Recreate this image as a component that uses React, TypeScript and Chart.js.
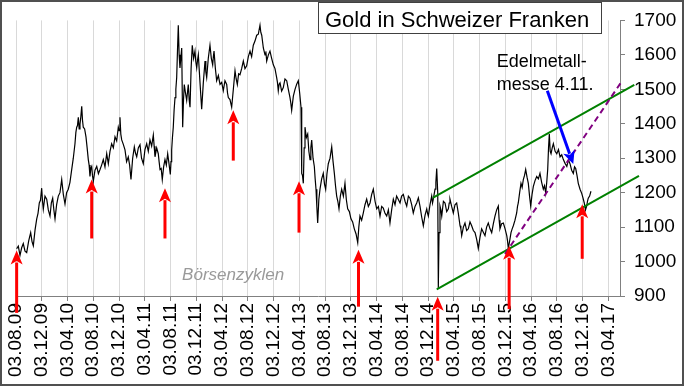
import React, { useEffect, useRef } from 'react';
import { Chart, registerables } from 'chart.js';

Chart.register(...registerables);

// Time axis: months since 03.08.2009
const tickLabels = [
  '03.08.09', '03.12.09', '03.04.10', '03.08.10', '03.12.10', '03.04.11',
  '03.08.11', '03.12.11', '03.04.12', '03.08.12', '03.12.12', '03.04.13',
  '03.08.13', '03.12.13', '03.04.14', '03.08.14', '03.12.14', '03.04.15',
  '03.08.15', '03.12.15', '03.04.16', '03.08.16', '03.12.16', '03.04.17',
];
const tickMonths = [0, 4, 8, 12, 16, 20, 24, 28, 32, 36, 40, 44, 48, 52, 56, 60, 64, 68, 72, 76, 80, 84, 88, 92];
const yTicks = [900, 1000, 1100, 1200, 1300, 1400, 1500, 1600, 1700];

const months = [
  0.1, 0.36, 0.62, 0.88, 1.13, 1.4, 1.66, 1.97, 2.28, 2.49,
  2.69, 2.96, 3.22, 3.42, 3.62, 3.8, 3.99, 4.12, 4.24, 4.5,
  4.77, 5.02, 5.28, 5.49, 5.7, 5.88, 6.06, 6.31, 6.57, 6.83,
  7.1, 7.35, 7.61, 7.86, 8.12, 8.38, 8.65, 8.9, 9.16, 9.3,
  9.43, 9.55, 9.68, 9.81, 9.94, 10.07, 10.21, 10.33, 10.45, 10.66,
  10.87, 11.05, 11.23, 11.36, 11.49, 11.62, 11.76, 11.88, 12.01, 12.27,
  12.54, 12.8, 13.05, 13.3, 13.56, 13.82, 14.09, 14.2, 14.34, 14.6,
  14.86, 15.12, 15.38, 15.64, 15.89, 16.02, 16.15, 16.28, 16.42, 16.67,
  16.93, 17.18, 17.44, 17.65, 17.86, 18.12, 18.38, 18.56, 18.75, 19,
  19.26, 19.5, 19.77, 20.03, 20.3, 20.55, 20.81, 21.07, 21.33, 21.46,
  21.59, 21.85, 22.1, 22.23, 22.37, 22.55, 22.72, 22.93, 23.14, 23.35,
  23.56, 23.76, 23.97, 24.08, 24.18, 24.3, 24.43, 24.56, 24.7, 24.83,
  24.96, 25.08, 25.21, 25.34, 25.47, 25.6, 25.74, 25.89, 26.02, 26.14,
  26.32, 26.51, 26.63, 26.76, 26.9, 27.03, 27.2, 27.38, 27.59, 27.8,
  27.93, 28.07, 28.2, 28.32, 28.58, 28.84, 29.1, 29.36, 29.49, 29.62,
  29.87, 30.13, 30.34, 30.55, 30.66, 30.76, 30.97, 31.17, 31.43, 31.69,
  31.95, 32.2, 32.46, 32.73, 32.85, 32.98, 33.24, 33.5, 33.76, 34.02,
  34.2, 34.38, 34.58, 34.79, 35.05, 35.31, 35.57, 35.83, 36.09, 36.35,
  36.6, 36.86, 37.12, 37.39, 37.64, 37.9, 38.03, 38.17, 38.42, 38.68,
  38.81, 38.94, 39.2, 39.45, 39.71, 39.97, 40.23, 40.49, 40.61, 40.74,
  40.87, 41.01, 41.26, 41.52, 41.78, 42.05, 42.3, 42.56, 42.69, 42.82,
  43.08, 43.34, 43.6, 43.85, 44.06, 44.27, 44.38, 44.5, 44.63, 44.76,
  44.89, 45.1, 45.31, 45.49, 45.67, 45.8, 45.93, 46.14, 46.34, 46.47,
  46.6, 46.73, 46.86, 47.04, 47.22, 47.48, 47.73, 47.92, 48.1, 48.3,
  48.51, 48.78, 49.04, 49.25, 49.45, 49.63, 49.81, 49.99, 50.17, 50.38,
  50.59, 50.85, 51.1, 51.31, 51.52, 51.78, 52.03, 52.29, 52.55, 52.82,
  53.08, 53.25, 53.43, 53.69, 53.95, 54.21, 54.47, 54.73, 54.99, 55.25,
  55.5, 55.77, 56.03, 56.29, 56.54, 56.8, 57.05, 57.32, 57.58, 57.84,
  58.09, 58.35, 58.61, 58.87, 59.12, 59.39, 59.65, 59.9, 60.16, 60.43,
  60.69, 60.95, 61.2, 61.46, 61.71, 61.98, 62.24, 62.5, 62.75, 63.01,
  63.27, 63.54, 63.8, 63.93, 64.05, 64.31, 64.57, 64.7, 64.82, 64.95,
  65.09, 65.22, 65.35, 65.51, 65.6, 65.71, 65.86, 66, 66.13, 66.39,
  66.64, 66.9, 67.16, 67.29, 67.41, 67.67, 67.93, 68.19, 68.45, 68.71,
  68.97, 69.1, 69.23, 69.49, 69.74, 70, 70.26, 70.52, 70.78, 71.04,
  71.3, 71.55, 71.81, 72.07, 72.33, 72.59, 72.85, 73.1, 73.36, 73.63,
  73.89, 74.15, 74.4, 74.66, 74.92, 75.05, 75.18, 75.44, 75.7, 75.97,
  76.23, 76.35, 76.47, 76.68, 76.89, 77.07, 77.25, 77.51, 77.77, 77.9,
  78.02, 78.23, 78.44, 78.62, 78.8, 78.99, 79.17, 79.38, 79.58, 79.77,
  79.95, 80.16, 80.36, 80.62, 80.88, 81.14, 81.39, 81.65, 81.91, 82.1,
  82.28, 82.44, 82.59, 82.72, 82.84, 82.98, 83.11, 83.29, 83.47, 83.74,
  84, 84.26, 84.51, 84.77, 85.02, 85.29, 85.56, 85.81, 86.05, 86.31,
  86.57, 86.76, 86.94, 87.14, 87.34, 87.61, 87.87, 88.07, 88.27, 88.46,
  88.64, 88.77, 88.89, 89.1, 89.31,
];
const prices = [
  1037, 1045, 1018, 1040, 1052, 1030, 1026, 1060, 1084, 1058,
  1046, 1092, 1124, 1140, 1170, 1178, 1213, 1175, 1152, 1190,
  1181, 1150, 1132, 1170, 1184, 1150, 1124, 1165, 1190, 1200,
  1238, 1195, 1167, 1200, 1210, 1230, 1267, 1300, 1342, 1375,
  1390, 1395, 1419, 1385, 1399, 1420, 1451, 1410, 1390, 1385,
  1362, 1330, 1296, 1280, 1247, 1270, 1276, 1250, 1233, 1265,
  1276, 1255, 1267, 1280, 1296, 1275, 1313, 1300, 1284, 1320,
  1342, 1330, 1362, 1350, 1390, 1380, 1419, 1370, 1353, 1340,
  1324, 1290, 1304, 1280, 1238, 1300, 1333, 1315, 1304, 1330,
  1339, 1300, 1284, 1325, 1342, 1320, 1353, 1335, 1367, 1335,
  1304, 1330, 1313, 1290, 1267, 1270, 1238, 1275, 1296, 1280,
  1313, 1285, 1253, 1290, 1324, 1360, 1390, 1440, 1476, 1500,
  1534, 1610, 1686, 1600, 1562, 1590, 1620, 1390, 1470, 1514,
  1490, 1468, 1490, 1514, 1470, 1448, 1560, 1628, 1590, 1611,
  1580, 1562, 1585, 1600, 1520, 1442, 1520, 1582, 1550, 1534,
  1590, 1628, 1590, 1571, 1595, 1611, 1560, 1525, 1540, 1514,
  1520, 1496, 1525, 1514, 1490, 1476, 1470, 1448, 1500, 1554,
  1530, 1514, 1545, 1542, 1560, 1582, 1560, 1568, 1595, 1611,
  1595, 1628, 1640, 1657, 1660, 1686, 1665, 1657, 1620, 1600,
  1610, 1582, 1600, 1611, 1590, 1571, 1560, 1534, 1520, 1496,
  1515, 1519, 1495, 1505, 1530, 1525, 1500, 1476, 1460, 1439,
  1480, 1500, 1515, 1525, 1490, 1448, 1256, 1250, 1227, 1330,
  1390, 1360, 1370, 1320, 1296, 1330, 1353, 1300, 1276, 1240,
  1210, 1160, 1112, 1180, 1210, 1240, 1256, 1225, 1210, 1255,
  1284, 1300, 1333, 1290, 1256, 1220, 1190, 1175, 1153, 1190,
  1210, 1190, 1227, 1180, 1153, 1145, 1124, 1115, 1095, 1080,
  1055, 1100, 1132, 1120, 1141, 1165, 1181, 1160, 1170, 1195,
  1210, 1175, 1153, 1160, 1132, 1160, 1155, 1140, 1132, 1150,
  1112, 1150, 1181, 1165, 1190, 1180, 1170, 1190, 1195, 1175,
  1161, 1190, 1184, 1165, 1141, 1160, 1170, 1185, 1161, 1130,
  1104, 1135, 1153, 1140, 1132, 1165, 1190, 1170, 1181, 1195,
  1210, 1230, 1270, 1198, 923, 1084, 1161, 1150, 1132, 1175,
  1170, 1145, 1153, 1170, 1181, 1160, 1141, 1165, 1170, 1140,
  1104, 1095, 1075, 1100, 1112, 1090, 1095, 1115, 1104, 1090,
  1084, 1065, 1038, 1070, 1095, 1085, 1075, 1100, 1112, 1095,
  1084, 1110, 1132, 1150, 1161, 1120, 1095, 1110, 1112, 1095,
  1075, 1060, 1038, 1060, 1084, 1095, 1104, 1120, 1141, 1160,
  1170, 1200, 1227, 1215, 1238, 1250, 1267, 1245, 1227, 1190,
  1161, 1195, 1218, 1235, 1247, 1240, 1256, 1230, 1210, 1220,
  1198, 1230, 1267, 1330, 1370, 1320, 1313, 1330, 1342, 1320,
  1313, 1325, 1304, 1310, 1296, 1285, 1276, 1295, 1284, 1265,
  1256, 1275, 1270, 1250, 1227, 1210, 1198, 1185, 1170, 1150,
  1161, 1175, 1184, 1190, 1204,
];

// Annotations (data coordinates: month, CHF)
const redArrowMonths = [0.1, 11.76, 23.14, 33.75, 43.96, 53.2, 65.5, 76.6, 87.95];
const redArrowTips = [1032, 1238, 1213, 1439, 1233, 1034, 898, 1046, 1166];
const redArrowTails = [851, 1067, 1067, 1293, 1084, 869, 712, 862, 1008];
const upperChannel = [[64.73, 1185], [96.04, 1513]];
const lowerChannel = [[65.35, 919], [96.77, 1249]];
const trendLine = [[75.96, 1022], [94.24, 1527]];
const blueArrow = [[82.53, 1496], [86.56, 1283]];
const noteLines = ['Edelmetall-', 'messe 4.11.'];
const notePos = [[74.67, 1564], [74.67, 1498]];
const cycleLabel = 'Börsenzyklen';
const cyclePos = [25.8, 946];
const titleText = 'Gold in Schweizer Franken';

const FONT = '"Liberation Sans", Arial, sans-serif';

function drawArrow(ctx: CanvasRenderingContext2D, x1: number, y1: number, x2: number, y2: number,
  color: string, width: number, headLen: number, headW: number) {
  const ang = Math.atan2(y2 - y1, x2 - x1);
  const bx = x2 - Math.cos(ang) * (headLen - 2);
  const by = y2 - Math.sin(ang) * (headLen - 2);
  ctx.strokeStyle = color;
  ctx.fillStyle = color;
  ctx.lineWidth = width;
  ctx.lineCap = 'butt';
  ctx.beginPath();
  ctx.moveTo(x1, y1);
  ctx.lineTo(bx, by);
  ctx.stroke();
  const hx = x2 - Math.cos(ang) * headLen;
  const hy = y2 - Math.sin(ang) * headLen;
  const nx = -Math.sin(ang) * headW / 2;
  const ny = Math.cos(ang) * headW / 2;
  ctx.beginPath();
  ctx.moveTo(x2, y2);
  ctx.lineTo(hx + nx, hy + ny);
  ctx.lineTo(x2 - Math.cos(ang) * headLen * 0.75, y2 - Math.sin(ang) * headLen * 0.75);
  ctx.lineTo(hx - nx, hy - ny);
  ctx.closePath();
  ctx.fill();
}

const annotPlugin = {
  id: 'annot',
  afterDraw(chart: any) {
    const { ctx } = chart;
    const xs = chart.scales.x;
    const ys = chart.scales.y;
    const px = (m: number) => xs.getPixelForValue(m);
    const py = (v: number) => ys.getPixelForValue(v);
    ctx.save();
    ctx.strokeStyle = '#008000';
    ctx.lineWidth = 2;
    for (const ln of [upperChannel, lowerChannel]) {
      ctx.beginPath();
      ctx.moveTo(px(ln[0][0]), py(ln[0][1]));
      ctx.lineTo(px(ln[1][0]), py(ln[1][1]));
      ctx.stroke();
    }
    ctx.strokeStyle = '#800080';
    ctx.setLineDash([6, 4]);
    ctx.beginPath();
    ctx.moveTo(px(trendLine[0][0]), py(trendLine[0][1]));
    ctx.lineTo(px(trendLine[1][0]), py(trendLine[1][1]));
    ctx.stroke();
    ctx.setLineDash([]);
    drawArrow(ctx, px(blueArrow[0][0]), py(blueArrow[0][1]), px(blueArrow[1][0]), py(blueArrow[1][1]), '#0000ff', 3, 13, 12);
    redArrowMonths.forEach((m, i) => {
      drawArrow(ctx, px(m), py(redArrowTails[i]), px(m), py(redArrowTips[i]), '#ff0000', 3, 14, 12);
    });
    ctx.fillStyle = '#000';
    ctx.font = `18px ${FONT}`;
    ctx.textAlign = 'left';
    ctx.textBaseline = 'alphabetic';
    noteLines.forEach((t, i) => ctx.fillText(t, px(notePos[i][0]), py(notePos[i][1])));
    ctx.fillStyle = '#9a9a9a';
    ctx.font = `italic 17px ${FONT}`;
    ctx.fillText(cycleLabel, px(cyclePos[0]), py(cyclePos[1]));
    ctx.fillStyle = '#fff';
    ctx.fillRect(318.5, 2.5, 283, 31);
    ctx.strokeStyle = '#404040';
    ctx.lineWidth = 1;
    ctx.strokeRect(318.5, 2.5, 283, 31);
    ctx.fillStyle = '#000';
    ctx.font = `22px ${FONT}`;
    ctx.fillText(titleText, 325, 27);
    ctx.strokeStyle = '#505050';
    ctx.lineWidth = 2;
    ctx.strokeRect(1, 1, 682, 384);
    ctx.restore();
  },
};

export default function App() {
  const ref = useRef<HTMLCanvasElement>(null);
  useEffect(() => {
    document.body.style.margin = '0';
    const n = Math.min(months.length, prices.length);
    const points = months.slice(0, n).map((m, i) => ({ x: m, y: prices[i] }));
    const chart = new Chart(ref.current as HTMLCanvasElement, {
      type: 'line',
      data: {
        datasets: [{
          data: points,
          borderColor: '#000',
          borderWidth: 1.2,
          pointRadius: 0,
          tension: 0,
        }],
      },
      options: {
        animation: false,
        responsive: false,
        maintainAspectRatio: false,
        layout: { padding: { left: 16, top: 17, right: 0, bottom: 0 } },
        plugins: { legend: { display: false }, tooltip: { enabled: false } },
        scales: {
          x: {
            type: 'linear',
            min: 0,
            max: 93.82,
            afterBuildTicks: (s: any) => { s.ticks = tickMonths.map((v) => ({ value: v })); },
            afterFit: (s: any) => { s.height = 90; },
            ticks: {
              autoSkip: false,
              maxRotation: 90,
              minRotation: 90,
              padding: 2,
              color: '#000',
              font: { family: FONT, size: 19 },
              callback: (_v: any, i: number) => tickLabels[i],
            },
            grid: { color: '#d9d9d9', tickColor: '#808080', tickLength: 5, lineWidth: 1 },
            border: { color: '#808080', width: 1 },
          },
          y: {
            position: 'right',
            min: 900,
            max: 1700,
            afterBuildTicks: (s: any) => { s.ticks = yTicks.map((v) => ({ value: v })); },
            afterFit: (s: any) => { s.width = 64; },
            ticks: {
              padding: 9,
              color: '#000',
              font: { family: FONT, size: 19 },
              callback: (v: any) => String(v),
            },
            grid: { drawOnChartArea: false, tickColor: '#808080', tickLength: 5 },
            border: { color: '#808080', width: 1 },
          },
        },
      },
      plugins: [annotPlugin],
    });
    return () => chart.destroy();
  }, []);
  return <canvas ref={ref} width={684} height={386} style={{ display: 'block', width: '684px', height: '386px' }} />;
}
